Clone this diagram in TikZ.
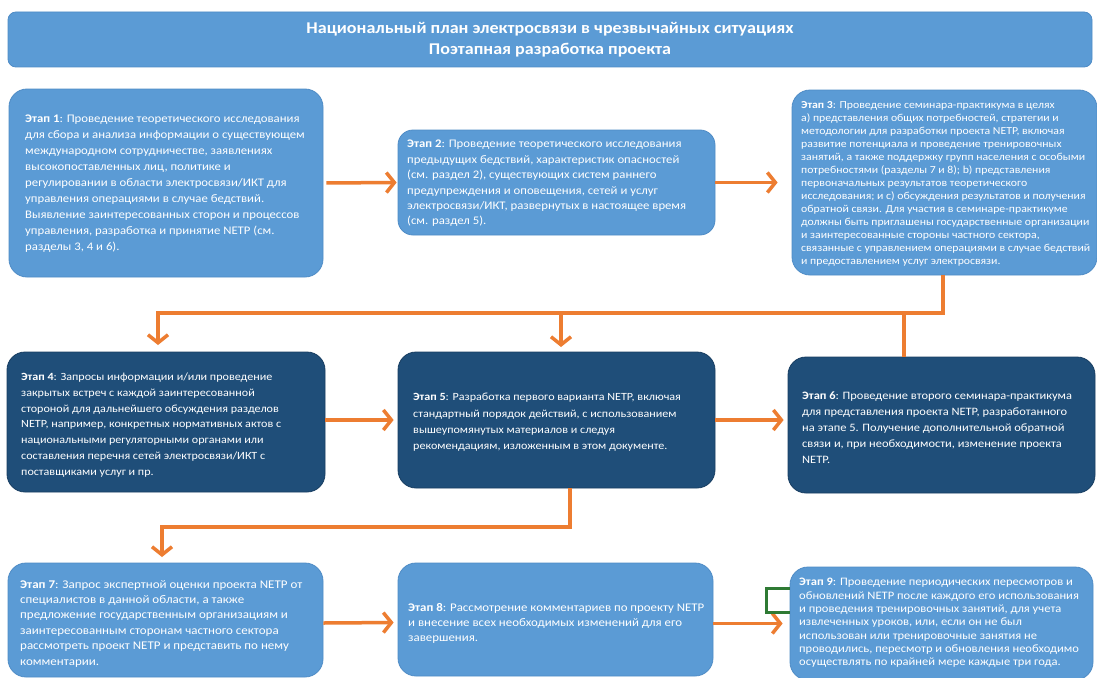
\documentclass[tikz,border=0pt]{standalone}
\usepackage{fontspec}
\setmainfont{Carlito}[FakeStretch=1.1]
\usetikzlibrary{arrows.meta}
\definecolor{lb}{HTML}{5B9BD5}
\definecolor{lbd}{HTML}{4F8CC6}
\definecolor{db}{HTML}{1F4E79}
\definecolor{dbd}{HTML}{173D61}
\definecolor{orng}{HTML}{ED7D31}
\definecolor{grn}{HTML}{2E7A34}
\tikzset{
  stagebox/.style={rounded corners=18pt, inner sep=0pt, line width=0.8pt},
  light/.style={stagebox, fill=lb, draw=lbd},
  dark/.style={stagebox, fill=db, draw=dbd},
  stagetext/.style={anchor=west, text=white, align=left, inner sep=0pt},
  conn/.style={draw=orng, line width=3.5pt},
  arr/.style={conn, -{Straight Barb[length=8pt,width=20pt]}},
  bracket/.style={draw=grn, line width=2.5pt},
}
\begin{document}
\begin{tikzpicture}[x=1pt,y=-1pt]
\useasboundingbox (0,0) rectangle (1097,677);
\fill[white] (0,0) rectangle (1097,677);

% title
\node[light, rounded corners=8pt, minimum width=1084pt, minimum height=55pt, align=center,
  text=white, font=\bfseries\fontsize{16.4}{21}\selectfont] (title) at (550,39.5)
  {Национальный план электросвязи в чрезвычайных ситуациях\\Поэтапная разработка проекта};

% boxes
\node[light, minimum width=314pt, minimum height=188pt] (b1) at (166,183) {};
\node[light, rounded corners=15pt, minimum width=317pt, minimum height=105pt] (b2) at (556.5,182.5) {};
\node[light, minimum width=305pt, minimum height=185pt] (b3) at (944.5,182.5) {};
\node[dark, minimum width=318pt, minimum height=140pt] (b4) at (166,422) {};
\node[dark, minimum width=317pt, minimum height=136pt] (b5) at (556.5,420) {};
\node[dark, minimum width=307pt, minimum height=136pt] (b6) at (941.5,425) {};
\node[light, minimum width=315pt, minimum height=114pt] (b7) at (165.5,620) {};
\node[light, minimum width=315pt, minimum height=113pt] (b8) at (555.5,619.5) {};
\node[light, minimum width=303pt, minimum height=113pt] (b9) at (941.5,623.5) {};

% texts
\node[stagetext, font=\fontsize{11.6}{16}\selectfont] (b1t) at (25,184)
{\textbf{Этап 1}: Проведение теоретического исследования\\
для сбора  и анализа информации о существующем\\
международном  сотрудничестве, заявлениях\\
высокопоставленных  лиц, политике и\\
регулировании  в области электросвязи/ИКТ для\\
управления  операциями в случае бедствий.\\
Выявление заинтересованных сторон  и процессов\\
управления, разработка и принятие NETP (см.\\
разделы 3, 4 и 6).};

\node[stagetext, font=\fontsize{11.6}{15.4}\selectfont] (b2t) at (407,183.5)
{\textbf{Этап 2}: Проведение теоретического исследования\\
предыдущих бедствий, характеристик опасностей\\
(см. раздел 2), существующих систем раннего\\
предупреждения  и оповещения, сетей и услуг\\
электросвязи/ИКТ, развернутых в настоящее время\\
(см. раздел 5).};

\node[stagetext, font=\fontsize{10.7}{13}\selectfont] (b3t) at (801,184)
{\textbf{Этап 3}: Проведение семинара-практикума в целях\\
а)  представления общих потребностей, стратегии и\\
методологии для разработки проекта NETP, включая\\
развитие потенциала и проведение тренировочных\\
занятий, а также поддержку групп населения с особыми\\
потребностями (разделы 7 и 8); b) представления\\
первоначальных результатов теоретического\\
исследования; и с) обсуждения результатов и получения\\
обратной связи. Для участия в семинаре-практикуме\\
должны быть приглашены государственные организации\\
и заинтересованные стороны частного сектора,\\
связанные с управлением операциями в случае бедствий\\
и предоставлением услуг электросвязи.};

\node[stagetext, font=\fontsize{11}{15.7}\selectfont] (b4t) at (21,425)
{\textbf{Этап 4}: Запросы информации и/или проведение\\
закрытых встреч с каждой заинтересованной\\
стороной  для дальнейшего обсуждения  разделов\\
NETP, например,  конкретных нормативных актов с\\
национальными регуляторными  органами  или\\
составления перечня сетей электросвязи/ИКТ с\\
поставщиками услуг и пр.};

\node[stagetext, font=\fontsize{11}{16.3}\selectfont] (b5t) at (413,422.5)
{\textbf{Этап 5}: Разработка первого варианта NETP, включая\\
стандартный порядок действий, с использованием\\
вышеупомянутых материалов и следуя\\
рекомендациям, изложенным в этом документе.};

\node[stagetext, font=\fontsize{11.3}{16}\selectfont] (b6t) at (802,427.5)
{\textbf{Этап 6}: Проведение второго семинара-практикума\\
для представления проекта NETP, разработанного\\
на этапе 5. Получение дополнительной обратной\\
связи и, при необходимости, изменение проекта\\
NETP.};

\node[stagetext, font=\fontsize{11.8}{15.4}\selectfont] (b7t) at (20,623.5)
{\textbf{Этап 7}: Запрос экспертной оценки проекта NETP от\\
специалистов в данной области, а также\\
предложение  государственным организациям и\\
заинтересованным сторонам частного сектора\\
рассмотреть проект NETP и представить по нему\\
комментарии.};

\node[stagetext, font=\fontsize{11.7}{15}\selectfont] (b8t) at (408,623)
{\textbf{Этап 8}: Рассмотрение комментариев по проекту NETP\\
и внесение всех необходимых изменений для его\\
завершения.};

\node[stagetext, font=\fontsize{11.4}{13.3}\selectfont] (b9t) at (799,623)
{\textbf{Этап 9}: Проведение периодических пересмотров и\\
обновлений NETP после каждого его использования\\
и проведения тренировочных занятий, для учета\\
извлеченных уроков, или, если он не был\\
использован или тренировочные занятия не\\
проводились, пересмотр и обновления  необходимо\\
осуществлять по крайней мере каждые три года.};

% horizontal arrows
\draw[arr, shorten <=3pt, shorten >=1pt] (b1.east) -- (b2.west);
\draw[arr, shorten >=14pt] (b2.east) -- (b3.west);
\draw[arr, shorten >=4pt] (b4.east |- b5.west) -- (b5.west);
\draw[arr, shorten >=4pt] (b5.east) -- (b5.east -| b6.west);
\draw[arr, shorten >=4pt] ([yshift=-3pt]b7.east) -- ([yshift=-3pt]b8.west);
\draw[arr, shorten >=7pt] (b8.east |- b9.west) -- (b9.west);

% distribution from stage 3
\coordinate (bus) at (0,313);
\coordinate (t4) at (158,345);
\coordinate (t5) at (561,347);
\coordinate (t6) at (904,313);
\coordinate (s3) at (943,0);
\draw[arr] (s3 |- b3.south) |- (t4 |- bus) -- (t4);
\draw[arr] (t5 |- bus) -- (t5);
\draw[conn] (t6) -- (t6 |- b6.north);

% from stage 5 to stage 7
\coordinate (bus2) at (0,527);
\coordinate (t7) at (162,557);
\draw[arr] ([xshift=13.5pt]b5.south) |- (t7 |- bus2) -- (t7);

% green bracket
\draw[bracket] ([yshift=35pt]b9.west) -- ++(-23,0) -- ++(0,24) -- ++(23,0);
\end{tikzpicture}
\end{document}
